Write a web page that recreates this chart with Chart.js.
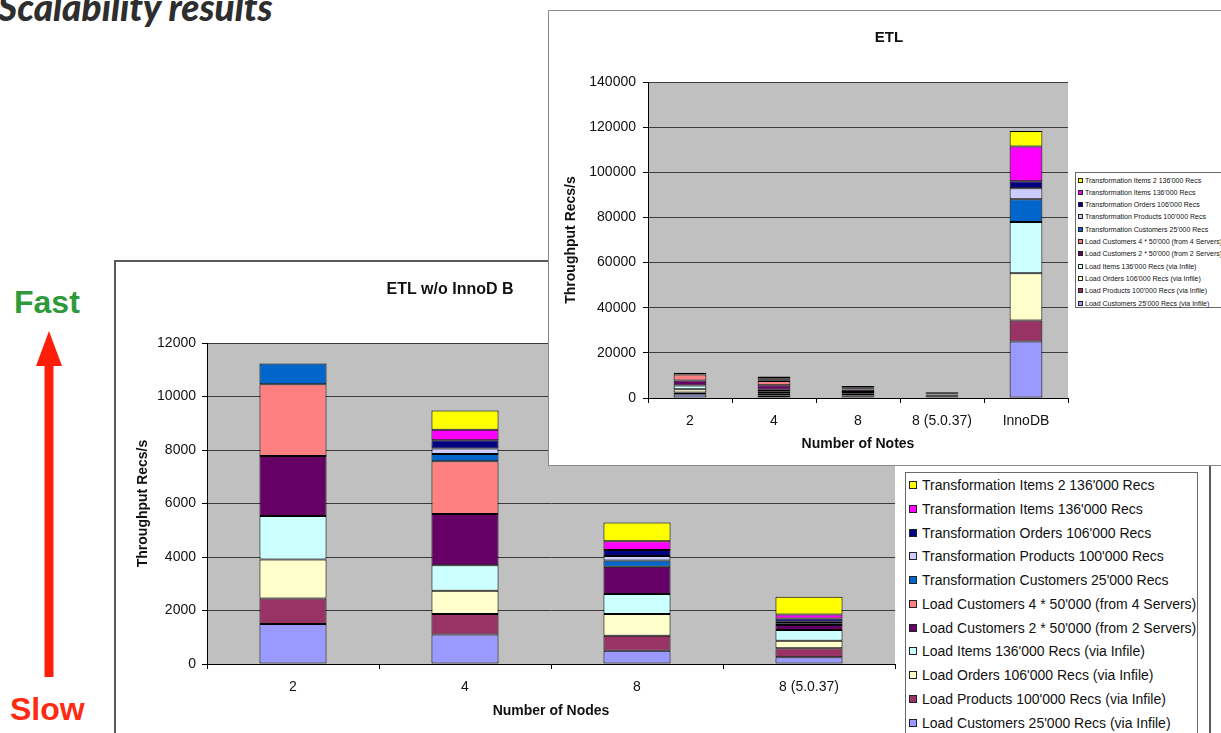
<!DOCTYPE html>
<html><head><meta charset="utf-8">
<script src="https://cdn.jsdelivr.net/npm/chart.js@4"></script>
<style>
html,body{margin:0;padding:0;background:#fff;overflow:hidden;width:1221px;height:733px;position:relative;font-family:"Liberation Sans",Arial,sans-serif;}
.abs{position:absolute;white-space:nowrap;}
#slideTitle{left:-2px;top:-12px;font:italic 900 37px Lato,sans-serif;color:#2e2e2e;line-height:37px;}
#fast{left:14px;top:286px;font:700 32px "Liberation Sans";color:#2f9a3c;line-height:32px;}
#slow{left:10px;top:693px;font:700 32px "Liberation Sans";color:#ff2a12;line-height:32px;}
#arrow{left:0;top:320px;}
#backFrame{left:114px;top:260px;width:1093px;height:488px;border:2px solid #5a5a5a;background:#fff;z-index:1;}
#etlFrame{left:548px;top:10px;width:700px;height:454px;border:1px solid #8a8a8a;background:#fff;z-index:3;}
canvas{display:block;}
.legend{position:absolute;border:1px solid #6a6a6a;background:#fff;box-sizing:border-box;color:#111;}
.legend .row{position:absolute;left:0;display:flex;align-items:center;white-space:nowrap;}
.legend .mk{display:inline-block;box-sizing:border-box;border:1px solid #222;}
#backLegend{left:905px;top:472px;width:293px;height:270px;z-index:2;font-size:14px;}
#backLegend .row{line-height:16px;height:16px;}
#backLegend .mk{width:8px;height:8px;margin-left:3px;margin-right:5px;}
#etlLegend{left:1075px;top:172px;width:160px;height:136px;z-index:4;font-size:7px;}
#etlLegend .row{line-height:9px;height:9px;}
#etlLegend .mk{width:5px;height:5px;margin-left:2px;margin-right:2px;border-width:0.5px;}
</style>
</head>
<body>
<div id="slideTitle" class="abs">Scalability results</div>
<div id="fast" class="abs">Fast</div>
<svg id="arrow" class="abs" width="100" height="370" viewBox="0 320 100 370">
  <polygon points="49,331 36,366 62,366" fill="#ff1e0a"/>
  <rect x="44.5" y="364" width="9" height="313" fill="#ff1e0a"/>
</svg>
<div id="slow" class="abs">Slow</div>

<div id="backFrame" class="abs"><canvas id="backChart" width="1093" height="488"></canvas></div>
<div id="backLegend" class="legend"></div>

<div id="etlFrame" class="abs"><canvas id="etlChart" width="700" height="454"></canvas></div>
<div id="etlLegend" class="legend"></div>

<script>
// ---------- data ----------
const categoriesNoInno = ['2', '4', '8', '8 (5.0.37)'];
const categoriesEtl = ['2', '4', '8', '8 (5.0.37)', 'InnoDB'];

// series listed bottom -> top of the stacks
const seriesNames = [
  "Load Customers 25'000 Recs (via Infile)",
  "Load Products 100'000 Recs (via Infile)",
  "Load Orders 106'000 Recs (via Infile)",
  "Load Items 136'000 Recs (via Infile)",
  "Load Customers 2 * 50'000 (from 2 Servers)",
  "Load Customers 4 * 50'000 (from 4 Servers)",
  "Transformation Customers 25'000 Recs",
  "Transformation Products 100'000 Recs",
  "Transformation Orders 106'000 Recs",
  "Transformation Items 136'000 Recs",
  "Transformation Items 2 136'000 Recs"
];
const seriesColors = [
  '#9999ff', '#993366', '#ffffcc', '#ccffff', '#660066', '#ff8080',
  '#0066cc', '#ccccff', '#000080', '#ff00ff', '#ffff00'
];

// values (Recs/s) for categories: 2, 4, 8, 8 (5.0.37), InnoDB
const loadCustomers25k   = [1500, 1100, 500, 250, 25000];
const loadProducts       = [950, 770, 560, 340, 9300];
const loadOrders         = [1460, 870, 810, 280, 21000];
const loadItems          = [1620, 950, 750, 400, 22700];
const loadCustomers2x    = [2250, 1920, 1020, 190, 0];
const loadCustomers4x    = [2680, 1970, 0, 0, 0];
const transCustomers     = [775, 275, 225, 60, 10000];
const transProducts      = [0, 200, 175, 60, 4900];
const transOrders        = [0, 310, 225, 125, 3100];
const transItems         = [0, 390, 325, 150, 15400];
const transItems2        = [0, 720, 700, 660, 6900];

const seriesValues = [loadCustomers25k, loadProducts, loadOrders, loadItems, loadCustomers2x,
  loadCustomers4x, transCustomers, transProducts, transOrders, transItems, transItems2];

const backAxis = {min: 0, max: 12000, step: 2000};
const etlAxis = {min: 0, max: 140000, step: 20000};

// ---------- chart helpers ----------
Chart.defaults.font.family = '"Liberation Sans", Arial, sans-serif';
Chart.defaults.color = '#111';

const plotBg = {
  id: 'plotBg',
  beforeDraw(chart, args, opts) {
    const {ctx, chartArea: a} = chart;
    ctx.save();
    ctx.fillStyle = opts.color || '#c0c0c0';
    ctx.fillRect(a.left, a.top, a.right - a.left, a.bottom - a.top);
    ctx.restore();
  }
};
const fixedTitle = {
  id: 'fixedTitle',
  afterDraw(chart, args, opts) {
    const ctx = chart.ctx;
    ctx.save();
    ctx.font = opts.font;
    ctx.fillStyle = '#111';
    ctx.textAlign = 'center';
    ctx.textBaseline = 'middle';
    ctx.fillText(opts.text, opts.x, opts.y);
    ctx.restore();
  }
};

function makeChart(id, labels, axis, g) {
  const n = labels.length;
  const datasets = seriesNames.map((name, i) => ({
    label: name,
    data: seriesValues[i].slice(0, n),
    backgroundColor: seriesColors[i],
    borderColor: '#000',
    borderWidth: 1,
    borderSkipped: false,
    barPercentage: 1,
    categoryPercentage: 0.39
  }));
  return new Chart(document.getElementById(id), {
    type: 'bar',
    data: {labels, datasets},
    plugins: [plotBg, fixedTitle],
    options: {
      responsive: false,
      animation: false,
      layout: {padding: {left: 0, top: g.top, right: g.right, bottom: 0}},
      plugins: {
        legend: {display: false},
        tooltip: {enabled: false},
        plotBg: {color: '#c0c0c0'},
        fixedTitle: g.title
      },
      scales: {
        x: {
          stacked: true,
          afterFit(s) { s.height = g.xAxisH; },
          grid: {offset: true, drawOnChartArea: false, tickLength: 5, tickColor: '#000'},
          border: {color: '#000', width: 1},
          ticks: {font: {size: 14}, padding: 10, color: '#111', maxRotation: 0},
          title: {display: true, text: g.xTitle, font: {size: 14, weight: 'bold'}, padding: {top: 0, bottom: g.xTitlePad}, color: '#111'}
        },
        y: {
          stacked: true,
          min: axis.min, max: axis.max,
          afterFit(s) { s.width = g.yAxisW; },
          grid: {color: '#3c3c3c', lineWidth: 1, tickLength: 5, tickColor: '#000'},
          border: {color: '#000', width: 1},
          ticks: {stepSize: axis.step, font: {size: 14}, padding: g.yTickPad, color: '#111',
                  callback: v => String(v)},
          title: {display: true, text: 'Throughput Recs/s', font: {size: 14, weight: 'bold'}, padding: {top: g.yTitlePad, bottom: 0}, color: '#111'}
        }
      }
    }
  });
}

makeChart('backChart', categoriesNoInno, backAxis, {
  top: 81, right: 314, xAxisH: 86, yAxisW: 91, yTickPad: 6, xTitlePad: 30, yTitlePad: 19,
  xTitle: 'Number of Nodes',
  title: {text: 'ETL w/o InnoD B', x: 334, y: 28, font: 'bold 16px "Liberation Sans"'}
});
makeChart('etlChart', categoriesEtl, etlAxis, {
  top: 71, right: 181, xAxisH: 67, yAxisW: 99, yTickPad: 7, xTitlePad: 12, yTitlePad: 14,
  xTitle: 'Number of Notes',
  title: {text: 'ETL', x: 340, y: 27, font: 'bold 15px "Liberation Sans"'}
});

// ---------- HTML legends (top series first) ----------
function buildLegend(id, firstRowTop, rowStep) {
  const box = document.getElementById(id);
  for (let k = 0; k < seriesNames.length; k++) {
    const i = seriesNames.length - 1 - k;
    const row = document.createElement('div');
    row.className = 'row';
    row.style.top = (firstRowTop + k * rowStep) + 'px';
    const mk = document.createElement('span');
    mk.className = 'mk';
    mk.style.background = seriesColors[i];
    const tx = document.createElement('span');
    tx.textContent = seriesNames[i];
    row.appendChild(mk); row.appendChild(tx);
    box.appendChild(row);
  }
}
buildLegend('backLegend', 4, 23.75);
buildLegend('etlLegend', 2.5, 12.33);
</script>
</body></html>
